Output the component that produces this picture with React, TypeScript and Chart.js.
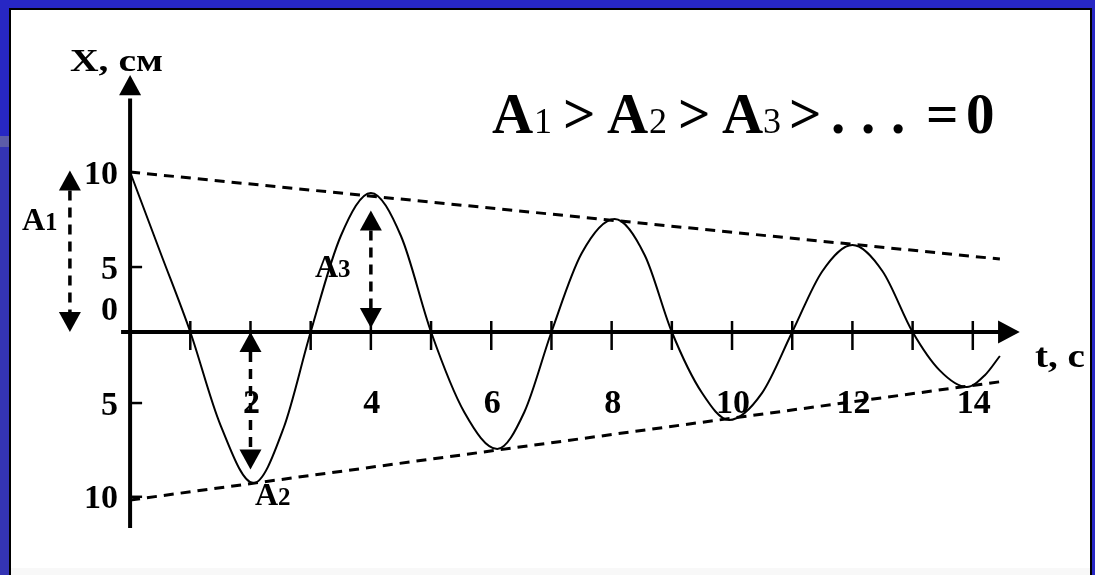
import React, { useEffect, useRef } from "react";
import { Chart, registerables } from "chart.js";

Chart.register(...registerables);

// ---- data (t in s, x in cm, picture scale) ----
const curveT = [0, 0.5, 1, 1.5, 2.05, 2.55, 3, 3.5, 4, 4.5, 5, 5.55, 6.1, 6.55, 7, 7.5, 8.05, 8.55, 9, 9.5, 9.95, 10.5, 11, 11.5, 12, 12.5, 13, 13.45, 13.9, 14.2, 14.45];
const curveX = [10, 5, 0, -5.8, -9.44, -6.0, 0, 6.0, 8.69, 6.0, 0, -5.0, -7.31, -5.0, 0, 4.9, 7.06, 4.8, 0, -3.8, -5.5, -3.8, 0, 3.8, 5.44, 3.8, 0, -2.4, -3.44, -2.7, -1.5];

const upperEnvT = [0, 14.45];
const upperEnvX = [10, 4.56];
const lowerEnvT = [0, 14.55];
const lowerEnvX = [-10.5, -3.06];

const xTicks = [1, 2, 3, 4, 5, 6, 7, 8, 9, 10, 11, 12, 13, 14];
const xTickLabels = ["", "2", "", "4", "", "6", "", "8", "", "10", "", "12", "", "14"];

const yTickValues = [10, 4.06, 0, -4.44, -10.3];
const yTickLabels = ["10", "5", "0", "5", "10"];
const yTickMarked = [false, true, false, true, true];

const ampT = [-1, 2.0, 4.0];
const ampFrom = [10.1, 0, 7.6];
const ampTo = [0, -8.6, 0.25];
const ampNames = ["A", "A", "A"];
const ampIdx = ["1", "2", "3"];

const SERIF = '"Liberation Serif", "Times New Roman", serif';

function stretchText(ctx: CanvasRenderingContext2D, text: string, x: number, y: number, font: string, width?: number) {
  ctx.save();
  ctx.font = font;
  ctx.textAlign = "left";
  ctx.textBaseline = "alphabetic";
  const w = ctx.measureText(text).width;
  ctx.translate(x, y);
  if (width) ctx.scale(width / w, 1);
  ctx.fillText(text, 0, 0);
  ctx.restore();
}

const bgPlugin = {
  id: "slideBg",
  beforeDraw(chart: any) {
    const ctx = chart.ctx as CanvasRenderingContext2D;
    const W = chart.width, H = chart.height;
    ctx.save();
    ctx.fillStyle = "#2727c4";
    ctx.fillRect(0, 0, W, H);
    ctx.fillStyle = "#5c5ca8";
    ctx.fillRect(0, 136, 10, 11);
    ctx.fillStyle = "#3434b4";
    ctx.fillRect(0, 147, 10, H - 147);
    ctx.fillStyle = "#000";
    ctx.fillRect(9, 8, 1083, H - 8);
    ctx.fillStyle = "#fff";
    ctx.fillRect(11, 10, 1079, H - 10);
    ctx.fillStyle = "#f8f8f8";
    ctx.fillRect(11, 568, 1079, H - 568);
    ctx.restore();
  },
};

function arrowHead(ctx: CanvasRenderingContext2D, tipX: number, tipY: number, dir: "up" | "down" | "right", len: number, half: number) {
  ctx.beginPath();
  if (dir === "up") {
    ctx.moveTo(tipX, tipY);
    ctx.lineTo(tipX - half, tipY + len);
    ctx.lineTo(tipX + half, tipY + len);
  } else if (dir === "down") {
    ctx.moveTo(tipX, tipY);
    ctx.lineTo(tipX - half, tipY - len);
    ctx.lineTo(tipX + half, tipY - len);
  } else {
    ctx.moveTo(tipX, tipY);
    ctx.lineTo(tipX - len, tipY - half);
    ctx.lineTo(tipX - len, tipY + half);
  }
  ctx.closePath();
  ctx.fill();
}

const axesPlugin = {
  id: "axesDraw",
  beforeDatasetsDraw(chart: any) {
    const ctx = chart.ctx as CanvasRenderingContext2D;
    const xs = chart.scales.x, ys = chart.scales.y;
    const X = (t: number) => xs.getPixelForValue(t);
    const Y = (v: number) => ys.getPixelForValue(v);
    ctx.save();
    ctx.strokeStyle = "#000";
    ctx.fillStyle = "#000";
    ctx.lineWidth = 4;
    ctx.lineCap = "butt";
    // x axis
    ctx.beginPath();
    ctx.moveTo(X(-0.15), Y(0));
    ctx.lineTo(X(14.45), Y(0));
    ctx.stroke();
    arrowHead(ctx, X(14.78), Y(0), "right", X(14.78) - X(14.42), 11.5);
    // y axis
    ctx.beginPath();
    ctx.moveTo(X(0), Y(-12.25));
    ctx.lineTo(X(0), Y(14.6));
    ctx.stroke();
    arrowHead(ctx, X(0), Y(16.06), "up", Y(14.8) - Y(16.06), 11);
    // x ticks
    ctx.lineWidth = 2.5;
    xTicks.forEach((t) => {
      ctx.beginPath();
      ctx.moveTo(X(t), Y(0) - 11);
      ctx.lineTo(X(t), Y(0) + 18);
      ctx.stroke();
    });
    // y ticks
    yTickValues.forEach((v, i) => {
      if (!yTickMarked[i]) return;
      ctx.beginPath();
      ctx.moveTo(X(0), Y(v));
      ctx.lineTo(X(0) + 12, Y(v));
      ctx.stroke();
    });
    ctx.restore();
  },
  afterDatasetsDraw(chart: any) {
    const ctx = chart.ctx as CanvasRenderingContext2D;
    const xs = chart.scales.x, ys = chart.scales.y;
    const X = (t: number) => xs.getPixelForValue(t);
    const Y = (v: number) => ys.getPixelForValue(v);
    ctx.save();
    ctx.fillStyle = "#000";
    ctx.strokeStyle = "#000";

    // amplitude arrows
    ampT.forEach((t, i) => {
      const x = X(t);
      const yTop = Y(ampFrom[i]);
      const yBot = Y(ampTo[i]);
      const headLen = 20, half = 11;
      ctx.save();
      ctx.lineWidth = 3.5;
      ctx.setLineDash([10, 7]);
      ctx.beginPath();
      ctx.moveTo(x, yTop + headLen);
      ctx.lineTo(x, yBot - headLen);
      ctx.stroke();
      ctx.restore();
      arrowHead(ctx, x, yTop, "up", headLen, half);
      arrowHead(ctx, x, yBot, "down", headLen, half);
    });

    // amplitude labels
    const ampLabelPos = [
      { x: 22, y: 230 },
      { x: 255, y: 505 },
      { x: 315, y: 277 },
    ];
    ampNames.forEach((n, i) => {
      const p = ampLabelPos[i];
      ctx.font = `bold 32px ${SERIF}`;
      ctx.textAlign = "left";
      ctx.textBaseline = "alphabetic";
      ctx.fillText(n, p.x, p.y);
      const w = ctx.measureText(n).width;
      ctx.font = `bold 25px ${SERIF}`;
      ctx.fillText(ampIdx[i], p.x + w, p.y);
    });

    // x tick labels
    ctx.font = `bold 34px ${SERIF}`;
    ctx.textAlign = "center";
    ctx.textBaseline = "alphabetic";
    xTicks.forEach((t, i) => {
      if (!xTickLabels[i]) return;
      ctx.fillText(xTickLabels[i], X(t) + 1, Y(0) + 81);
    });

    // y tick labels
    ctx.textAlign = "right";
    yTickValues.forEach((v, i) => {
      const base = v === 0 ? Y(v) - 12 : Y(v) + 11.5;
      ctx.fillText(yTickLabels[i], X(0) - 12, base);
    });

    // axis titles
    ctx.textAlign = "left";
    stretchText(ctx, "X, см", 70, 71, `bold 31px ${SERIF}`, 93);
    stretchText(ctx, "t, c", 1035, 367, `bold 33px ${SERIF}`, 50);

    // formula A1 > A2 > A3 > . . . = 0
    const big = `bold 57px ${SERIF}`;
    const small = `36px ${SERIF}`;
    const base = 133;
    const pieces: [string, string, number][] = [
      ["A", big, 492], ["1", small, 534], [">", big, 563],
      ["A", big, 607], ["2", small, 649], [">", big, 678],
      ["A", big, 722], ["3", small, 763], [">", big, 789],
      [".", big, 831], [".", big, 861], [".", big, 891],
      ["=", big, 926], ["0", big, 966],
    ];
    pieces.forEach(([s, f, x]) => {
      ctx.font = f;
      ctx.fillText(s, x, base);
    });
    ctx.restore();
  },
};

export default function App() {
  const ref = useRef<HTMLCanvasElement | null>(null);
  useEffect(() => {
    if (!ref.current) return;
    const chart = new Chart(ref.current, {
      type: "line",
      data: {
        datasets: [
          {
            data: curveT.map((t, i) => ({ x: t, y: curveX[i] })),
            borderColor: "#000",
            borderWidth: 2,
            pointRadius: 0,
            fill: false,
            cubicInterpolationMode: "monotone",
          },
          {
            data: upperEnvT.map((t, i) => ({ x: t, y: upperEnvX[i] })),
            borderColor: "#000",
            borderWidth: 3,
            borderDash: [10, 7],
            pointRadius: 0,
            fill: false,
          },
          {
            data: lowerEnvT.map((t, i) => ({ x: t, y: lowerEnvX[i] })),
            borderColor: "#000",
            borderWidth: 3,
            borderDash: [10, 7],
            pointRadius: 0,
            fill: false,
          },
        ],
      },
      options: {
        responsive: false,
        animation: false,
        clip: false,
        layout: { padding: { left: 100, right: 62, top: 76, bottom: 19 } },
        plugins: { legend: { display: false }, tooltip: { enabled: false } },
        scales: {
          x: { type: "linear", min: -0.5, max: 15, display: false },
          y: { type: "linear", min: -14, max: 16, display: false },
        },
      } as any,
      plugins: [bgPlugin, axesPlugin],
    });
    return () => chart.destroy();
  }, []);
  return (
    <div style={{ position: "absolute", left: 0, top: 0, width: 1095, height: 575 }}>
      <canvas ref={ref} width={1095} height={575} style={{ display: "block" }} />
    </div>
  );
}
